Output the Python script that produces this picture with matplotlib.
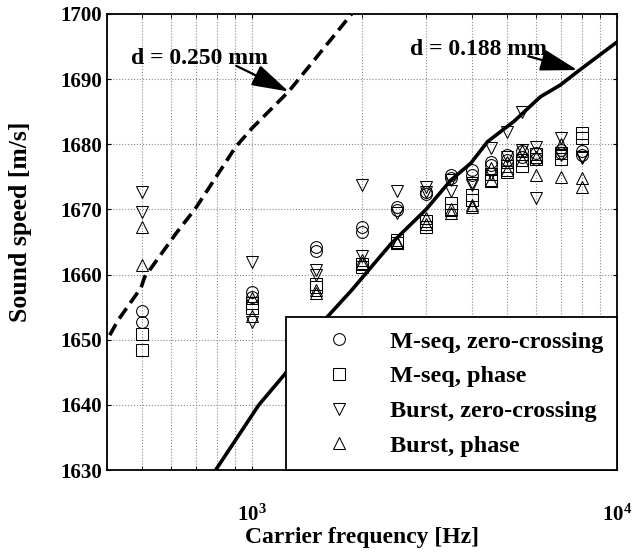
import matplotlib
matplotlib.use("Agg")
import matplotlib.pyplot as plt
import numpy as np
from matplotlib.ticker import LogLocator, FixedLocator, NullFormatter

plt.rcParams['font.family'] = ['Liberation Serif', 'DejaVu Serif']
plt.rcParams['font.weight'] = 'bold'
plt.rcParams['mathtext.fontset'] = 'custom'
plt.rcParams['mathtext.rm'] = 'Liberation Serif:bold'
plt.rcParams['mathtext.it'] = 'Liberation Serif:bold'
plt.rcParams['mathtext.bf'] = 'Liberation Serif:bold'

# theory curves
f_250 = [407, 429, 496, 507, 618, 700, 786, 901, 1000, 1259, 1873]
c_250 = [1650.7, 1653.0, 1658.0, 1659.6, 1666.3, 1670.2, 1674.5, 1679.6, 1682.5, 1688.1, 1700.0]
f_188 = [794, 1043, 1232, 1600, 1873, 2036, 2407, 2996, 3505, 3975, 4416, 5213, 6168, 6992, 7771, 10000]
c_188 = [1630.0, 1640.0, 1644.8, 1653.4, 1657.6, 1660.0, 1664.8, 1670.0, 1674.5, 1677.1, 1680.4, 1683.5,
         1687.3, 1689.1, 1691.1, 1695.7]

# measured points, two runs per frequency
freqs = [500, 1000, 1500, 2000, 2500, 3000, 3500, 4000, 4500, 5000, 5500, 6000, 7000, 8000]
mseq_zc = [(1654.4, 1652.8), (1657.4, 1656.6), (1664.3, 1663.6), (1667.3, 1666.6), (1670.4, 1669.9),
           (1672.7, 1672.3), (1675.3, 1674.8), (1676.0, 1675.3), (1677.3, 1676.8), (1677.6, 1678.4),
           (1678.9, 1678.1), (1678.7, 1677.8), (1679.1, 1678.6), (1678.9, 1678.4)]
mseq_ph = [(1650.9, 1648.4), (1655.6, 1654.9), (1658.6, 1658.1), (1661.2, 1661.6), (1665.3, 1664.9),
           (1668.3, 1667.3), (1671.0, 1669.9), (1672.2, 1671.4), (1675.5, 1674.3), (1676.6, 1675.8),
           (1677.6, 1676.6), (1678.5, 1677.8), (1678.6, 1677.8), (1681.7, 1680.9)]
burst_zc = [(1672.7, 1669.6), (1662.0, 1652.8), (1660.7, 1659.9), (1673.7, 1662.9), (1672.9, 1669.4),
            (1673.4, 1672.7), (1674.5, 1672.8), (1674.0, 1673.7), (1679.5, 1675.5), (1681.9, 1678.1),
            (1685.0, 1679.1), (1679.6, 1671.8), (1680.9, 1678.4), (1678.1, 1677.9)]
burst_ph = [(1667.3, 1661.5), (1656.4, 1653.6), (1657.6, 1657.2), (1662.2, 1661.8), (1665.0, 1664.8),
            (1668.7, 1667.7), (1669.4, 1670.1), (1670.7, 1670.4), (1676.3, 1674.5), (1677.3, 1676.0),
            (1679.0, 1677.6), (1678.1, 1675.3), (1680.1, 1675.0), (1674.8, 1673.5)]

series = [(mseq_zc, 'o', 'M-seq, zero-crossing'),
          (mseq_ph, 's', 'M-seq, phase'),
          (burst_zc, 'v', 'Burst, zero-crossing'),
          (burst_ph, '^', 'Burst, phase')]

fig = plt.figure(figsize=(6.43, 5.53), dpi=100)
ax = fig.add_axes([0.1664, 0.150, 0.7932, 0.8247])

for vals, m, lab in series:
    xs = np.repeat(freqs, 2)
    ys = np.array(vals).ravel()
    ax.plot(xs, ys, linestyle='none', marker=m, markersize=8.5, markerfacecolor='none',
            markeredgecolor='black', markeredgewidth=0.75, label=lab)

ax.plot(f_250, c_250, color='black', lw=2.6, linestyle=(0, (3.5, 1.8)))
ax.plot(f_188, c_188, color='black', lw=2.6)

ax.set_xscale('log')
ax.set_xlim(400, 10000)
ax.set_ylim(1630, 1700)
ax.set_yticks(np.arange(1630, 1701, 10))
ax.xaxis.set_major_locator(FixedLocator([1e3, 1e4]))
ax.xaxis.set_minor_locator(LogLocator(base=10, subs=np.arange(2, 10)))
ax.xaxis.set_minor_formatter(NullFormatter())

ax.grid(True, which='both', axis='x', color='#888888', linestyle=':', lw=0.8)
ax.grid(True, which='major', axis='y', color='#888888', linestyle=':', lw=0.8)
ax.tick_params(which='both', direction='in', top=True, right=True, length=3, labelsize=15)
ax.tick_params(axis='x', pad=25)
for s in ax.spines.values():
    s.set_linewidth(1.3)

ax.set_xlabel('Carrier frequency [Hz]', fontsize=17, fontweight='bold', labelpad=1)
ax.set_ylabel('Sound speed [m/s]', fontsize=18.5, fontweight='bold')
ax.yaxis.set_label_coords(-0.148, 0.544)

arrow = dict(arrowstyle='-|>,head_length=1.35,head_width=0.4', color='black',
             lw=1.6, shrinkA=0, shrinkB=0, patchA=None)
ax.annotate('d = 0.250 mm', xy=(1259, 1688.1), xytext=(465, 1693.1),
            fontsize=17, fontweight='bold', va='center',
            arrowprops=dict(arrow, relpos=(0.77, 0.17)), annotation_clip=False)
ax.annotate('d = 0.188 mm', xy=(7787, 1691.4), xytext=(2713, 1694.5),
            fontsize=17, fontweight='bold', va='center',
            arrowprops=dict(arrow, relpos=(0.86, 0.2)), annotation_clip=False)

leg = ax.legend(loc='lower right', borderaxespad=0, fancybox=False, edgecolor='black',
                framealpha=1, fontsize=17.5, handlelength=3.3, handletextpad=0.45,
                borderpad=0.55, labelspacing=0.52)
leg.get_frame().set_linewidth(1.3)

fig.savefig('out.png', dpi=100)
